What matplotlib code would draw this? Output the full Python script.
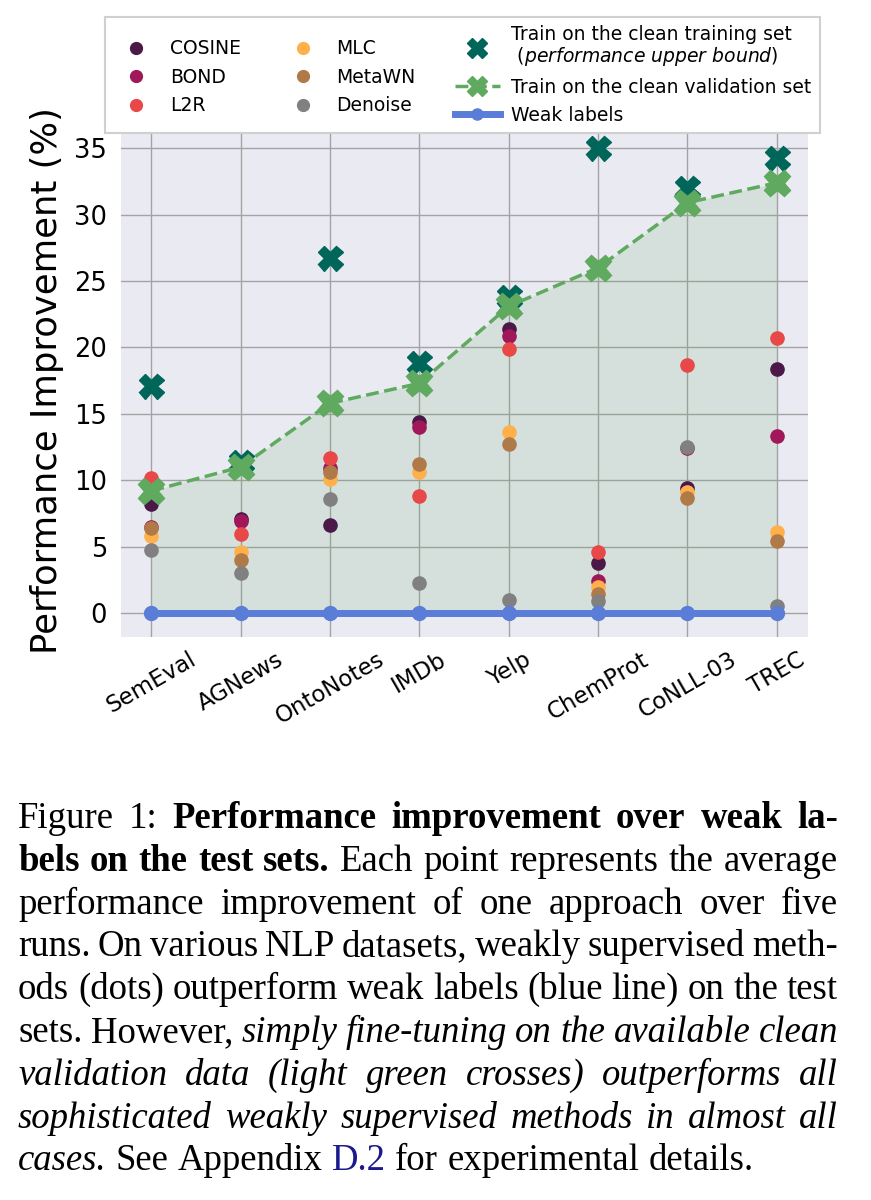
import matplotlib
matplotlib.use("Agg")
from matplotlib import pyplot as plt
from matplotlib.lines import Line2D

# data
datasets = ["SemEval", "AGNews", "OntoNotes", "IMDb", "Yelp", "ChemProt", "CoNLL-03", "TREC"]
cosine = [8.2, 7.1, 6.6, 14.4, 21.4, 3.8, 9.45, 18.4]
bond = [6.5, 6.95, 10.9, 14.0, 20.9, 2.4, 12.4, 13.3]
l2r = [10.2, 5.95, 11.65, 8.8, 19.9, 4.6, 18.7, 20.7]
mlc = [5.8, 4.6, 10.1, 10.6, 13.6, 2.0, 9.1, 6.1]
metawn = [6.4, 4.0, 10.6, 11.2, 12.7, 1.4, 8.7, 5.45]
denoise = [4.75, 3.0, 8.6, 2.3, 1.0, 0.9, 12.5, 0.5]
clean_train = [17.1, 11.4, 26.7, 18.8, 23.8, 35.0, 32.0, 34.3]
clean_val = [9.2, 11.0, 15.8, 17.3, 23.1, 26.0, 30.9, 32.4]
weak = [0, 0, 0, 0, 0, 0, 0, 0]

methods = ["COSINE", "BOND", "L2R", "MLC", "MetaWN", "Denoise"]
method_vals = [cosine, bond, l2r, mlc, metawn, denoise]
method_colors = ["#4b1848", "#a0185a", "#e84848", "#ffb04a", "#b07a48", "#808080"]

DARK_GREEN = "#00665a"
LIGHT_GREEN = "#5faa5f"
BLUE = "#5a7dd8"

W, H = 871, 1200
fig = plt.figure(figsize=(W / 100, H / 100), dpi=100)
ax = fig.add_axes([121 / W, 1 - 637 / H, (808 - 121) / W, (637 - 125) / H])
ax.set_facecolor("#eaeaf2")
for s in ax.spines.values():
    s.set_visible(False)
ax.set_axisbelow(True)
ax.grid(True, color="#a3a3a3", linewidth=1.0)

x = list(range(len(datasets)))

ax.fill_between(x, weak, clean_val, color=LIGHT_GREEN, alpha=0.15, linewidth=0, zorder=1)
for vals, col in zip(method_vals, method_colors):
    ax.plot(x, vals, "o", color=col, markersize=9.5, zorder=2)
ax.plot(x, clean_train, "X", color=DARK_GREEN, markersize=18, zorder=3)
ax.plot(x, clean_val, "--X", color=LIGHT_GREEN, markersize=19, linewidth=2.5, zorder=4)
ax.plot(x, weak, "-o", color=BLUE, markersize=10, linewidth=5, zorder=5)

ax.set_xlim(-0.34, 7.35)
ax.set_ylim(-1.8, 36.75)
ax.set_xticks(x)
ax.set_xticklabels(datasets, rotation=30, fontsize=16.5)
ax.set_yticks(range(0, 36, 5))
ax.tick_params(axis="y", labelsize=18.5, length=0, pad=10)
ax.tick_params(axis="x", length=0, pad=8)
ax.set_ylabel("Performance Improvement (%)", fontsize=25.5)
ax.yaxis.set_label_coords(-0.083, 0.5)

# legend with proxy handles
handles = []
for m, col in zip(methods, method_colors):
    handles.append(Line2D([], [], marker="o", linestyle="none", color=col, markersize=8.5))
handles.append(Line2D([], [], marker="X", linestyle="none", color=DARK_GREEN, markersize=15))
handles.append(Line2D([], [], marker="X", linestyle="--", color=LIGHT_GREEN, markersize=15, linewidth=2.5))
handles.append(Line2D([], [], marker="o", linestyle="-", color=BLUE, markersize=8, linewidth=5))
labels = methods + [
    "Train on the clean training set\n (" + r"$\mathit{performance\ upper\ bound}$" + ")",
    "Train on the clean validation set",
    "Weak labels",
]
leg = fig.legend(handles, labels, ncol=3, loc="upper left",
                 bbox_to_anchor=(105 / W, 1 - 17 / H), borderaxespad=0,
                 fontsize=13.5, frameon=True, fancybox=False, framealpha=1,
                 edgecolor="#d0d0d0", handlelength=2.4, handletextpad=0.6,
                 columnspacing=2.1, labelspacing=0.5, borderpad=0.45)
leg.get_frame().set_linewidth(1.5)
for t in leg.get_texts():
    t.set_linespacing(1.05)

# caption, justified by hand
caption = [
    [("Figure 1:", "normal"), ("Performance improvement over weak la-", "bold")],
    [("bels on the test sets.", "bold"), ("Each point represents the average", "normal")],
    [("performance improvement of one approach over five", "normal")],
    [("runs. On various NLP datasets, weakly supervised meth-", "normal")],
    [("ods (dots) outperform weak labels (blue line) on the test", "normal")],
    [("sets. However,", "normal"), ("simply fine-tuning on the available clean", "italic")],
    [("validation data (light green crosses) outperforms all", "italic")],
    [("sophisticated weakly supervised methods in almost all", "italic")],
    [("cases.", "italic"), ("See Appendix", "normal"), ("D.2", "link"),
     ("for experimental details.", "normal")],
]
cap_size = 26.5
left, right = 18, 838
base0, step = 828, 42.8

renderer = fig.canvas.get_renderer()
space = 0.25 * cap_size * 100 / 72
for i, line in enumerate(caption):
    words = []
    for seg, style in line:
        for w in seg.split():
            kw = dict(fontsize=cap_size, family="Liberation Serif", color="black")
            if style == "bold":
                kw["weight"] = "bold"
            elif style == "italic":
                kw["style"] = "italic"
            elif style == "link":
                kw["color"] = "#1a1a8c"
            t = fig.text(0, 1 - (base0 + i * step) / H, w, va="baseline", ha="left", **kw)
            words.append(t)
    widths = [t.get_window_extent(renderer).width for t in words]
    if i == len(caption) - 1:
        gap = space
    else:
        gap = (right - left - sum(widths)) / (len(words) - 1)
    xpos = left
    for t, wd in zip(words, widths):
        t.set_x(xpos / W)
        xpos += wd + gap

fig.savefig("out.png", dpi=100)
